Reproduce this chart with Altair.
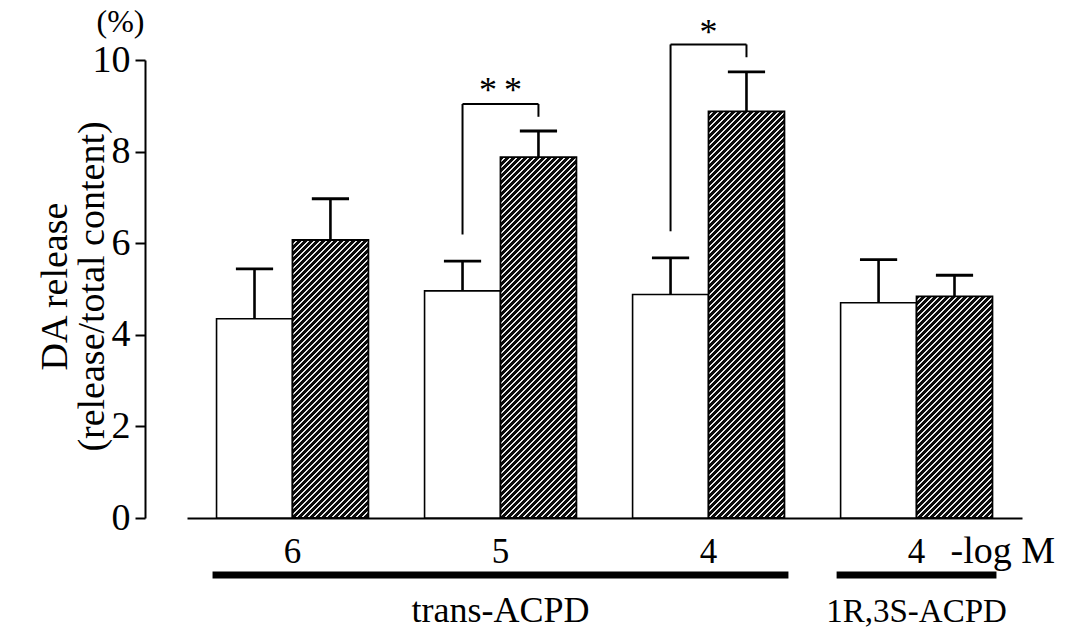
import math
import altair as alt
import pandas as pd

# ---------------- data ----------------
group_ids = ["t6", "t5", "t4", "r4"]
conc_labels = ["6", "5", "4", "4"]
series = ["control", "treated"]
control_mean = [4.35, 4.96, 4.88, 4.70]
control_sem = [1.09, 0.65, 0.80, 0.94]
treated_mean = [6.07, 7.88, 8.88, 4.84]
treated_sem = [0.90, 0.57, 0.86, 0.46]

sig_groups = ["t5", "t4"]
sig_marks = ["*\u2009*", "*"]
sig_left_from = [6.19, 6.26]
sig_top = [9.04, 10.34]
sig_right_from = [8.76, 10.06]
sig_text_y = [9.32, 10.6]

drug_names = ["trans-ACPD", "1R,3S-ACPD"]
drug_center = ["t5", "r4"]
drug_span = [3, 1]
drug_font = [36, 33]

unit_label = "-log M"
percent_label = "(%)"
y_ticks = [0, 2, 4, 6, 8, 10]
y_title = ["DA release", "(release/total content)"]

# ---------------- layout / style ----------------
W, H = 835, 458
PI, PO = 0.27, 0.142
step = W / (len(group_ids) - PI + 2 * PO)
bar_w = step * (1 - PI) / 2
FONT = "Liberation Serif"


def hatch(value, hperiod=6.0, light_frac=0.33, dark="#0a0a0a", light="#e8e8e8"):
    """Diagonal '/' stripes as a linear gradient in bounding-box units."""
    h = value * H / 10.0
    w = bar_w
    s = (w + h) * w / (w * w + h * h)
    dt = hperiod / (w + h)
    stops = []
    k = 0
    while k * dt < 1:
        o0 = k * dt
        o1 = min(1.0, o0 + (1 - light_frac) * dt)
        o2 = min(1.0, (k + 1) * dt)
        stops += [
            {"offset": round(o0, 6), "color": dark},
            {"offset": round(o1, 6), "color": dark},
            {"offset": round(o1, 6), "color": light},
            {"offset": round(o2, 6), "color": light},
        ]
        k += 1
    return {"gradient": "linear", "x1": 0, "y1": 0, "x2": s, "y2": s * h / w, "stops": stops}


bars = pd.DataFrame({
    "group": group_ids * 2,
    "series": ["control"] * len(group_ids) + ["treated"] * len(group_ids),
    "mean": control_mean + treated_mean,
    "sem": control_sem + treated_sem,
})
bars["top"] = bars["mean"] + bars["sem"]

x_scale = alt.Scale(domain=group_ids, paddingInner=PI, paddingOuter=PO)
xo_scale = alt.Scale(domain=series, paddingInner=0, paddingOuter=0)
y_scale = alt.Scale(domain=[0, 10], nice=False, zero=True)

x_axis = alt.Axis(labels=False, ticks=False, title=None, domainWidth=2,
                  domainColor="black", grid=False)
y_axis = alt.Axis(values=y_ticks, grid=False, offset=42, tickSize=10, tickWidth=2,
                  tickColor="black", domainWidth=2, domainColor="black",
                  labelFontSize=38, labelColor="black", labelPadding=5, labelFont=FONT,
                  title=y_title, titleFontSize=38, titleFontWeight="normal",
                  titleFont=FONT, titleColor="black", titleX=-79, titleY=226,
                  titleAngle=-90, titleBaseline="alphabetic", titleLineHeight=37)


def X():
    return alt.X("group:N", scale=x_scale, axis=x_axis)


def XO():
    return alt.XOffset("series:N", scale=xo_scale)


def Y(field):
    return alt.Y(f"{field}:Q", scale=y_scale, axis=y_axis)


base = alt.Chart(bars)

white = base.transform_filter("datum.series == 'control'").mark_bar(
    fill="white", stroke="black", strokeWidth=1.6
).encode(x=X(), xOffset=XO(), y=Y("mean"))

hatched_layers = []
for g, v in zip(group_ids, treated_mean):
    hatched_layers.append(
        base.transform_filter(f"datum.series == 'treated' && datum.group == '{g}'").mark_bar(
            fill=hatch(v), stroke="black", strokeWidth=1.8
        ).encode(x=X(), xOffset=XO(), y=Y("mean"))
    )

err_rule = base.mark_rule(color="black", strokeWidth=2.6).encode(
    x=X(), xOffset=XO(), y=Y("mean"), y2="top:Q")
err_cap = base.mark_tick(color="black", opacity=1, orient="horizontal", size=bar_w * 0.49,
                         thickness=2.8).encode(x=X(), xOffset=XO(), y=Y("top"))

legs = pd.DataFrame({
    "group": [g for g in sig_groups for _ in series],
    "series": series * len(sig_groups),
    "lo": [v for pair in zip(sig_left_from, sig_right_from) for v in pair],
    "hi": [t for t in sig_top for _ in series],
})
sig = pd.DataFrame({"group": sig_groups, "mark": sig_marks, "top": sig_top, "ty": sig_text_y})

leg_rules = alt.Chart(legs).mark_rule(color="black", strokeWidth=2).encode(
    x=X(), xOffset=XO(), y=Y("lo"), y2="hi:Q")
top_rules = alt.Chart(sig).mark_tick(color="black", opacity=1, orient="horizontal", size=bar_w,
                                     thickness=2).encode(x=X(), y=Y("top"))
stars = alt.Chart(sig).mark_text(fontSize=36, baseline="middle", font=FONT, color="black").encode(
    x=X(), y=Y("ty"), text="mark:N")

pct = pd.DataFrame({"group": [group_ids[0]], "label": [percent_label]})
pct_text = alt.Chart(pct).mark_text(fontSize=32, baseline="middle", dx=-172, font=FONT,
                                    color="black").encode(
    x=X(), y=alt.datum(10.84), text="label:N")

conc = pd.DataFrame({"group": group_ids, "label": conc_labels})
conc_text = alt.Chart(conc).mark_text(fontSize=35, baseline="alphabetic", font=FONT,
                                      color="black").encode(
    x=X(), y=alt.datum(-0.98), text="label:N")

unit = pd.DataFrame({"group": [group_ids[-1]], "label": [unit_label]})
unit_text = alt.Chart(unit).mark_text(fontSize=38, baseline="alphabetic", align="left", dx=34,
                                      font=FONT, color="black").encode(
    x=X(), y=alt.datum(-0.98), text="label:N")

drug_layers = []
for name, g, span, fs in zip(drug_names, drug_center, drug_span, drug_font):
    ddf = pd.DataFrame({"group": [g], "label": [name]})
    size = span * step - PI * step + 8
    drug_layers.append(alt.Chart(ddf).mark_tick(color="black", opacity=1, orient="horizontal",
                                                size=size, thickness=7).encode(
        x=X(), y=alt.datum(-1.245)))
    drug_layers.append(alt.Chart(ddf).mark_text(fontSize=fs, baseline="alphabetic", font=FONT,
                                                color="black").encode(
        x=X(), y=alt.datum(-2.27), text="label:N"))

chart = alt.layer(
    white, *hatched_layers, err_rule, err_cap, leg_rules, top_rules, stars, pct_text,
    conc_text, unit_text, *drug_layers
).properties(
    width=W, height=H,
    padding={"left": 187, "top": 60, "right": 1067 - 187 - W, "bottom": 637 - 60 - H},
    autosize=alt.AutoSizeParams(type="none"),
).configure(font=FONT, background="white").configure_view(strokeWidth=0)

chart.save("out.html", embed_options={"renderer": "svg", "actions": False})
